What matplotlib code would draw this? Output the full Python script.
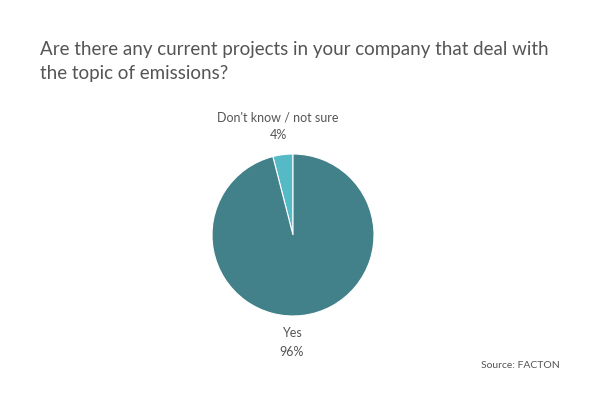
import matplotlib
matplotlib.use("Agg")
from matplotlib import pyplot as plt

labels = ["Don't know / not sure", "Yes"]
values = [4, 96]
colors = ["#56b9c6", "#43818a"]

plt.rcParams["font.family"] = "Lato"

fig = plt.figure(figsize=(6, 4), dpi=100)
fig.text(40 / 600, 1 - 50 / 400, "Are there any current projects in your company that deal with",
         fontsize=13.5, color="#555555", va="center")
fig.text(40 / 600, 1 - 73 / 400, "the topic of emissions?",
         fontsize=13.5, color="#555555", va="center")

ax = fig.add_axes([(293 - 81) / 600, (400 - 235 - 81) / 400, 162 / 600, 162 / 400])
ax.pie(values, colors=colors, startangle=90, counterclock=True, radius=1,
       wedgeprops=dict(linewidth=0.8, edgecolor="white"))
ax.set_xlim(-1, 1)
ax.set_ylim(-1, 1)
ax.set_aspect("equal")
ax.axis("off")

# slice labels
fig.text(278 / 600, 1 - 117 / 400, labels[0], ha="center", va="center", fontsize=9, color="#555555")
fig.text(278 / 600, 1 - 135 / 400, "%d%%" % values[0], ha="center", va="center", fontsize=9, color="#555555")
fig.text(292 / 600, 1 - 333 / 400, labels[1], ha="center", va="center", fontsize=9, color="#555555")
fig.text(292 / 600, 1 - 352 / 400, "%d%%" % values[1], ha="center", va="center", fontsize=9, color="#555555")

fig.text(560 / 600, 1 - 365 / 400, "Source: FACTON", ha="right", va="center", fontsize=7.5, color="#555555")

fig.savefig("out.png", dpi=100, facecolor="white")
